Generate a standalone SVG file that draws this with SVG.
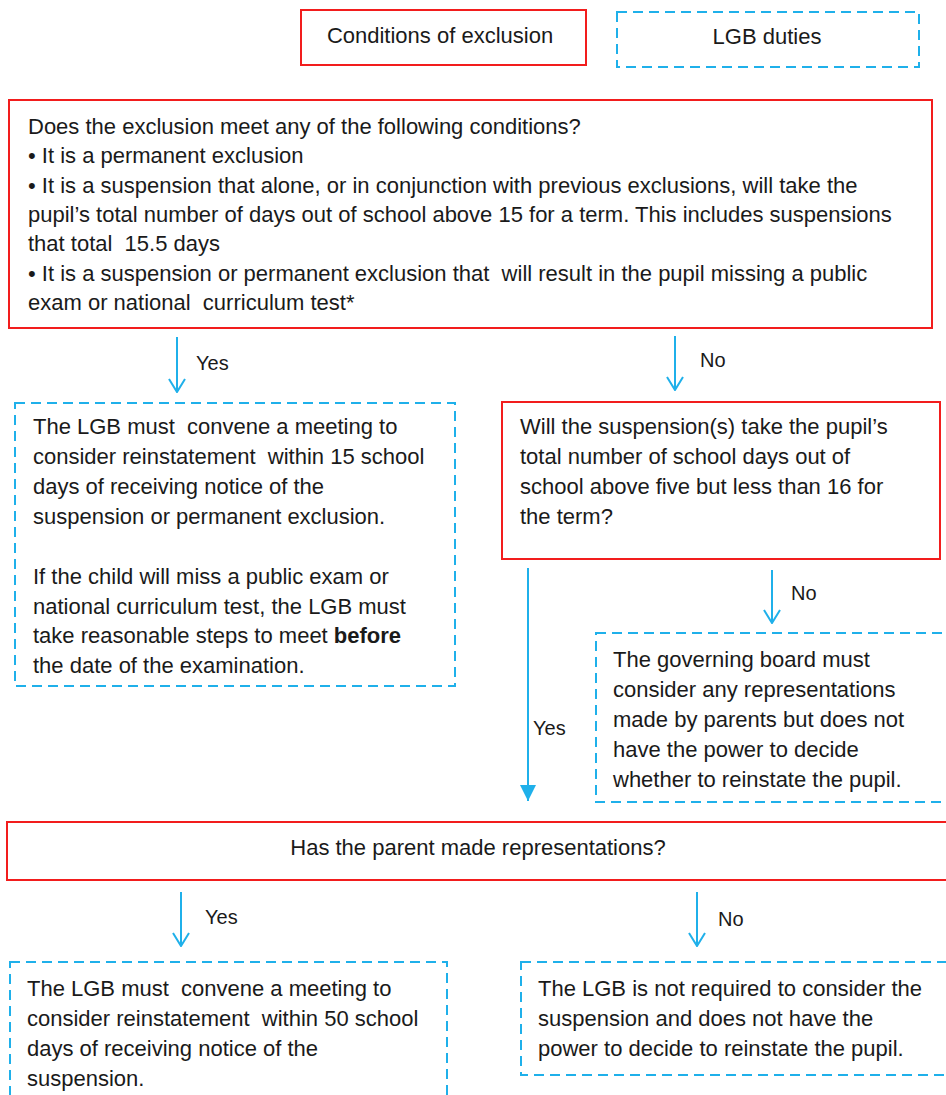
<svg xmlns="http://www.w3.org/2000/svg" width="946" height="1095" viewBox="0 0 946 1095">
<style>
text{font-family:"Liberation Sans",Arial,sans-serif;font-size:22px;fill:#1a1a1a}
.lbl{font-size:20px}
.cond{fill:#fff;stroke:#f21d1d;stroke-width:2}
.duty{fill:#fff;stroke:#1fb0ea;stroke-width:2;stroke-dasharray:10 6}
.ar{stroke:#1fb0ea;stroke-width:2;fill:none}
</style>
<defs>
<marker id="v" viewBox="0 0 20 16" refX="10" refY="15" markerWidth="20" markerHeight="16" markerUnits="userSpaceOnUse" orient="0">
<path d="M2 2 L10 15 L18 2" fill="none" stroke="#1fb0ea" stroke-width="2"/>
</marker>
<marker id="tri" viewBox="0 0 16 16" refX="8" refY="16" markerWidth="16" markerHeight="16" markerUnits="userSpaceOnUse" orient="0">
<path d="M0 0 L16 0 L8 16 Z" fill="#1fb0ea"/>
</marker>
</defs>
<rect width="946" height="1095" fill="#fff"/>

<g id="legend-conditions">
<rect class="cond" x="301" y="10" width="285" height="55"/>
<text x="440" y="43" text-anchor="middle">Conditions of exclusion</text>
</g>
<g id="legend-duties">
<rect class="duty" x="617" y="12" width="302" height="55"/>
<text x="767" y="44" text-anchor="middle">LGB duties</text>
</g>

<g id="conditions">
<rect class="cond" x="9" y="100" width="923" height="228"/>
<text x="28" y="134">Does the exclusion meet any of the following conditions?</text>
<text x="28" y="163">• It is a permanent exclusion</text>
<text x="28" y="193">• It is a suspension that alone, or in conjunction with previous exclusions, will take the</text>
<text x="28" y="222">pupil’s total number of days out of school above 15 for a term. This includes suspensions</text>
<text x="28" y="251" xml:space="preserve">that total  15.5 days</text>
<text x="28" y="281" xml:space="preserve">• It is a suspension or permanent exclusion that  will result in the pupil missing a public</text>
<text x="28" y="310" xml:space="preserve">exam or national  curriculum test*</text>
</g>

<g id="meeting15">
<rect class="duty" x="15" y="403" width="440" height="283"/>
<text x="33" y="434" xml:space="preserve">The LGB must  convene a meeting to</text>
<text x="33" y="464" xml:space="preserve">consider reinstatement  within 15 school</text>
<text x="33" y="494">days of receiving notice of the</text>
<text x="33" y="524">suspension or permanent exclusion.</text>
<text x="33" y="584">If the child will miss a public exam or</text>
<text x="33" y="614">national curriculum test, the LGB must</text>
<text x="33" y="643">take reasonable steps to meet <tspan font-weight="bold">before</tspan></text>
<text x="33" y="673">the date of the examination.</text>
</g>

<g id="days5to16">
<rect class="cond" x="502" y="402" width="438" height="157"/>
<text x="520" y="434">Will the suspension(s) take the pupil’s</text>
<text x="520" y="464">total number of school days out of</text>
<text x="520" y="494">school above five but less than 16 for</text>
<text x="520" y="524">the term?</text>
</g>

<g id="governing">
<rect class="duty" x="596" y="633" width="360" height="169"/>
<text x="613" y="667">The governing board must</text>
<text x="613" y="697">consider any representations</text>
<text x="613" y="727">made by parents but does not</text>
<text x="613" y="757">have the power to decide</text>
<text x="613" y="787">whether to reinstate the pupil.</text>
</g>

<g id="representations">
<rect class="cond" x="7" y="822" width="950" height="58"/>
<text x="478" y="855" text-anchor="middle">Has the parent made representations?</text>
</g>

<g id="meeting50">
<rect class="duty" x="10" y="962" width="437" height="150"/>
<text x="27" y="996" xml:space="preserve">The LGB must  convene a meeting to</text>
<text x="27" y="1026" xml:space="preserve">consider reinstatement  within 50 school</text>
<text x="27" y="1056">days of receiving notice of the</text>
<text x="27" y="1086">suspension.</text>
</g>

<g id="notrequired">
<rect class="duty" x="521" y="962" width="435" height="113"/>
<text x="538" y="996">The LGB is not required to consider the</text>
<text x="538" y="1026">suspension and does not have the</text>
<text x="538" y="1056">power to decide to reinstate the pupil.</text>
</g>

<g id="connectors">
<line class="ar" x1="177" y1="337" x2="177" y2="392" marker-end="url(#v)"/>
<text class="lbl" x="196" y="370">Yes</text>
<line class="ar" x1="675" y1="336" x2="675" y2="390" marker-end="url(#v)"/>
<text class="lbl" x="700" y="367">No</text>
<line class="ar" x1="772" y1="570" x2="772" y2="623" marker-end="url(#v)"/>
<text class="lbl" x="791" y="600">No</text>
<line class="ar" x1="528" y1="568" x2="528" y2="801" marker-end="url(#tri)"/>
<text class="lbl" x="533" y="735">Yes</text>
<line class="ar" x1="181" y1="892" x2="181" y2="946" marker-end="url(#v)"/>
<text class="lbl" x="205" y="924">Yes</text>
<line class="ar" x1="697" y1="892" x2="697" y2="946" marker-end="url(#v)"/>
<text class="lbl" x="718" y="926">No</text>
</g>
</svg>
